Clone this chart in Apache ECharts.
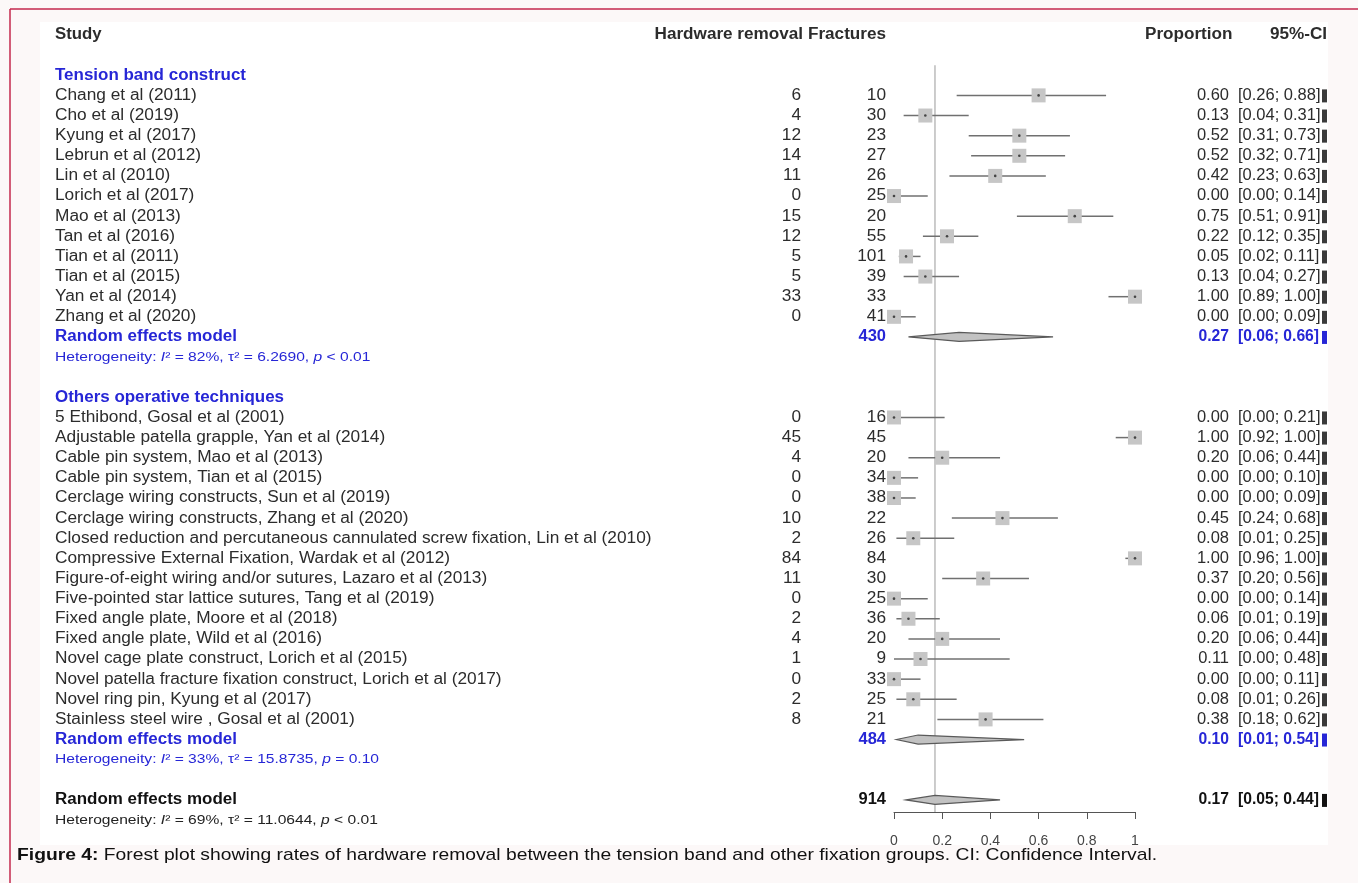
<!DOCTYPE html>
<html>
<head>
<meta charset="utf-8">
<script src="https://cdn.jsdelivr.net/npm/echarts@6/dist/echarts.min.js"></script>
<style>
  html, body { margin: 0; padding: 0; background: #fcf8f8; }
  #chart { width: 1358px; height: 883px; }
</style>
</head>
<body>
<div id="chart"></div>
<script>
// Tension band construct
const tbStudies = ['Chang et al (2011)', 'Cho et al (2019)', 'Kyung et al (2017)', 'Lebrun et al (2012)',
  'Lin et al (2010)', 'Lorich et al (2017)', 'Mao et al (2013)', 'Tan et al (2016)', 'Tian et al (2011)',
  'Tian et al (2015)', 'Yan et al (2014)', 'Zhang et al (2020)'];
const tbRemoval = [6, 4, 12, 14, 11, 0, 15, 12, 5, 5, 33, 0];
const tbFractures = [10, 30, 23, 27, 26, 25, 20, 55, 101, 39, 33, 41];
const tbProp = [0.60, 0.13, 0.52, 0.52, 0.42, 0.00, 0.75, 0.22, 0.05, 0.13, 1.00, 0.00];
const tbLower = [0.26, 0.04, 0.31, 0.32, 0.23, 0.00, 0.51, 0.12, 0.02, 0.04, 0.89, 0.00];
const tbUpper = [0.88, 0.31, 0.73, 0.71, 0.63, 0.14, 0.91, 0.35, 0.11, 0.27, 1.00, 0.09];
const tbModel = [430, 0.27, 0.06, 0.66]; // fractures, proportion, lower, upper
const tbHet = ['82%', '6.2690', '< 0.01'];

// Others operative techniques
const otStudies = ['5 Ethibond, Gosal et al (2001)', 'Adjustable patella grapple, Yan et al (2014)',
  'Cable pin system, Mao et al (2013)', 'Cable pin system, Tian et al (2015)',
  'Cerclage wiring constructs, Sun et al (2019)', 'Cerclage wiring constructs, Zhang et al (2020)',
  'Closed reduction and percutaneous cannulated screw fixation, Lin et al (2010)',
  'Compressive External Fixation, Wardak et al (2012)',
  'Figure-of-eight wiring and/or sutures, Lazaro et al (2013)',
  'Five-pointed star lattice sutures, Tang et al (2019)', 'Fixed angle plate, Moore et al (2018)',
  'Fixed angle plate, Wild et al (2016)', 'Novel cage plate construct, Lorich et al (2015)',
  'Novel patella fracture fixation construct, Lorich et al (2017)', 'Novel ring pin, Kyung et al (2017)',
  'Stainless steel wire , Gosal et al (2001)'];
const otRemoval = [0, 45, 4, 0, 0, 10, 2, 84, 11, 0, 2, 4, 1, 0, 2, 8];
const otFractures = [16, 45, 20, 34, 38, 22, 26, 84, 30, 25, 36, 20, 9, 33, 25, 21];
const otProp = [0.00, 1.00, 0.20, 0.00, 0.00, 0.45, 0.08, 1.00, 0.37, 0.00, 0.06, 0.20, 0.11, 0.00, 0.08, 0.38];
const otLower = [0.00, 0.92, 0.06, 0.00, 0.00, 0.24, 0.01, 0.96, 0.20, 0.00, 0.01, 0.06, 0.00, 0.00, 0.01, 0.18];
const otUpper = [0.21, 1.00, 0.44, 0.10, 0.09, 0.68, 0.25, 1.00, 0.56, 0.14, 0.19, 0.44, 0.48, 0.11, 0.26, 0.62];
const otModel = [484, 0.10, 0.01, 0.54];
const otHet = ['33%', '15.8735', '= 0.10'];

// overall
const allModel = [914, 0.17, 0.05, 0.44];
const allHet = ['69%', '11.0644', '< 0.01'];

const xTicks = ['0', '0.2', '0.4', '0.6', '0.8', '1'];

const BLUE = '#2626d6';
const INK = '#2c2c2c';
const FONT = '"Liberation Sans", Arial, sans-serif';

// build table rows
const rows = [];
function addGroup(title, studies, rem, frac, p, lo, hi, model, het) {
  rows.push({ kind: 'group', label: title });
  studies.forEach((s, i) => rows.push({ kind: 'study', label: s, rem: rem[i], frac: frac[i], p: p[i], lo: lo[i], hi: hi[i] }));
  rows.push({ kind: 'model', label: 'Random effects model', frac: model[0], p: model[1], lo: model[2], hi: model[3], color: BLUE });
  rows.push({ kind: 'het', het: het, color: BLUE });
  rows.push({ kind: 'blank' });
}
addGroup('Tension band construct', tbStudies, tbRemoval, tbFractures, tbProp, tbLower, tbUpper, tbModel, tbHet);
addGroup('Others operative techniques', otStudies, otRemoval, otFractures, otProp, otLower, otUpper, otModel, otHet);
rows.push({ kind: 'model', label: 'Random effects model', frac: allModel[0], p: allModel[1], lo: allModel[2], hi: allModel[3], color: '#111' });
rows.push({ kind: 'het', het: allHet, color: '#222' });

const fmt = v => v.toFixed(2);

// text helper, the source figure is stretched a bit horizontally
function txt(x, y, text, opt, sx) {
  return {
    type: 'text',
    x: x, y: y,
    scaleX: sx || 1.08,
    style: Object.assign({
      text: text,
      font: '16px ' + FONT,
      fill: INK,
      textAlign: 'left', align: 'left',
      textVerticalAlign: 'middle', verticalAlign: 'middle'
    }, opt || {})
  };
}
const R = { textAlign: 'right', align: 'right' };

function renderText(params, api) {
  const r = rows[params.dataIndex];
  const y = api.coord([0, api.value(1)])[1];
  const kids = [];
  if (r.kind === 'group') {
    kids.push(txt(55, y, r.label, { font: 'bold 16px ' + FONT, fill: BLUE }, 1.06));
  } else if (r.kind === 'study') {
    kids.push(txt(55, y, r.label));
    kids.push(txt(801, y, String(r.rem), R));
    kids.push(txt(886, y, String(r.frac), R));
    kids.push(txt(1229, y, fmt(r.p), R, 1.03));
    kids.push(txt(1238, y, '[' + fmt(r.lo) + '; ' + fmt(r.hi) + ']', null, 1.03));
    kids.push({ type: 'rect', shape: { x: 1322, y: y - 6, width: 5, height: 13 }, style: { fill: '#3a3a3a' } });
  } else if (r.kind === 'model') {
    const f = 'bold 16px ' + FONT;
    kids.push(txt(55, y, r.label, { font: f, fill: r.color }, 1.06));
    kids.push(txt(886, y, String(r.frac), Object.assign({ font: f, fill: r.color }, R), 1.03));
    kids.push(txt(1229, y, fmt(r.p), Object.assign({ font: f, fill: r.color }, R), 0.98));
    kids.push(txt(1238, y, '[' + fmt(r.lo) + '; ' + fmt(r.hi) + ']', { font: f, fill: r.color }, 0.98));
    kids.push({ type: 'rect', shape: { x: 1322, y: y - 6, width: 5, height: 13 }, style: { fill: r.color } });
  } else if (r.kind === 'het') {
    const c = r.color;
    kids.push(txt(55, y, '{n|Heterogeneity: }{i|I}{n|² = ' + r.het[0] + ', τ² = ' + r.het[1] + ', }{i|p}{n| ' + r.het[2] + '}', {
      font: '13px ' + FONT, fill: c,
      rich: {
        n: { fontSize: 13, fontFamily: FONT, fill: c },
        i: { fontSize: 13, fontFamily: FONT, fontStyle: 'italic', fill: c }
      }
    }, 1.2));
  }
  return { type: 'group', children: kids };
}

function renderHeader(params, api) {
  const y = api.coord([0, api.value(1)])[1];
  const f = 'bold 16px ' + FONT;
  return {
    type: 'group',
    children: [
      txt(55, y, 'Study', { font: f }, 1.05),
      txt(803, y, 'Hardware removal', Object.assign({ font: f }, R), 1.07),
      txt(886, y, 'Fractures', Object.assign({ font: f }, R), 1.07),
      txt(1145, y, 'Proportion', { font: f }, 1.07),
      txt(1327, y, '95%-CI', Object.assign({ font: f }, R), 1.07)
    ]
  };
}

function renderStudy(params, api) {
  const lo = api.coord([api.value(1), api.value(0)]);
  const hi = api.coord([api.value(2), api.value(0)]);
  const c = api.coord([api.value(3), api.value(0)]);
  const s = 14;
  return {
    type: 'group',
    children: [
      { type: 'line', shape: { x1: lo[0], y1: lo[1], x2: hi[0], y2: hi[1] }, style: { stroke: '#707070', lineWidth: 1.5 } },
      { type: 'rect', shape: { x: c[0] - s / 2, y: c[1] - s / 2, width: s, height: s }, style: { fill: '#c6c6c6' } },
      { type: 'circle', shape: { cx: c[0], cy: c[1], r: 1.3 }, style: { fill: '#444' } }
    ]
  };
}

function renderDiamond(params, api) {
  const lo = api.coord([api.value(1), api.value(0)]);
  const hi = api.coord([api.value(2), api.value(0)]);
  const c = api.coord([api.value(3), api.value(0)]);
  const h = 4.5;
  return {
    type: 'polygon',
    shape: { points: [[lo[0], lo[1]], [c[0], c[1] - h], [hi[0], hi[1]], [c[0], c[1] + h]] },
    style: { fill: '#c2c2c2', stroke: '#5a5a5a', lineWidth: 1.2 }
  };
}

const studyData = [];
const diamondData = [];
rows.forEach((r, i) => {
  if (r.kind === 'study') studyData.push([i, r.lo, r.hi, r.p]);
  if (r.kind === 'model') diamondData.push([i, r.lo, r.hi, r.p]);
});

const chart = echarts.init(document.getElementById('chart'));
chart.setOption({
  backgroundColor: '#fcf8f8',
  animation: false,
  graphic: [
    { type: 'rect', z: -10, shape: { x: 40, y: 22, width: 1288, height: 823 }, style: { fill: '#ffffff' } },
    { type: 'line', shape: { x1: 10, y1: 9, x2: 1358, y2: 9 }, style: { stroke: '#c4284e', lineWidth: 1.5 } },
    { type: 'line', shape: { x1: 10, y1: 9, x2: 10, y2: 883 }, style: { stroke: '#c4284e', lineWidth: 1.5 } },
    {
      // caption
      type: 'text', x: 17, y: 855, scaleX: 1.135,
      style: {
        text: '{b|Figure 4:} Forest plot showing rates of hardware removal between the tension band and other fixation groups. CI: Confidence Interval.',
        font: '17px ' + FONT, fill: '#111',
        textVerticalAlign: 'middle', verticalAlign: 'middle',
        rich: { b: { fontFamily: FONT, fontSize: 17, fontWeight: 'bold', fill: '#111' } }
      }
    }
  ],
  grid: { left: 894, right: 223, top: 35, bottom: 71 },
  xAxis: {
    type: 'value', min: 0, max: 1, interval: 0.2,
    axisLine: { onZero: false, lineStyle: { color: '#555', width: 1 } },
    axisTick: { length: 7, lineStyle: { color: '#555' } },
    axisLabel: { margin: 22, color: '#444', fontSize: 14, fontFamily: FONT, formatter: (v) => xTicks[Math.round(v * 5)] },
    splitLine: { show: false }
  },
  yAxis: { type: 'value', inverse: true, min: -2, max: 36.6, show: false },
  series: [
    {
      type: 'custom', name: 'ref', clip: false,
      renderItem: (params, api) => {
        const a = api.coord([api.value(0), -0.5]);
        const b = api.coord([api.value(0), 36.6]);
        return { type: 'line', shape: { x1: a[0], y1: a[1], x2: b[0], y2: b[1] }, style: { stroke: '#bbbbbb', lineWidth: 1.5 } };
      },
      data: [[allModel[1], 0]]
    },
    { type: 'custom', name: 'studies', clip: false, renderItem: renderStudy, encode: { x: [1, 2, 3], y: 0 }, data: studyData },
    { type: 'custom', name: 'models', clip: false, renderItem: renderDiamond, encode: { x: [1, 2, 3], y: 0 }, data: diamondData },
    { type: 'custom', name: 'header', clip: false, renderItem: renderHeader, encode: { x: 0, y: 1 }, data: [[0, -2]] },
    { type: 'custom', name: 'table', clip: false, renderItem: renderText, encode: { x: 0, y: 1 }, data: rows.map((r, i) => [0, i]) }
  ]
});
</script>
</body>
</html>
